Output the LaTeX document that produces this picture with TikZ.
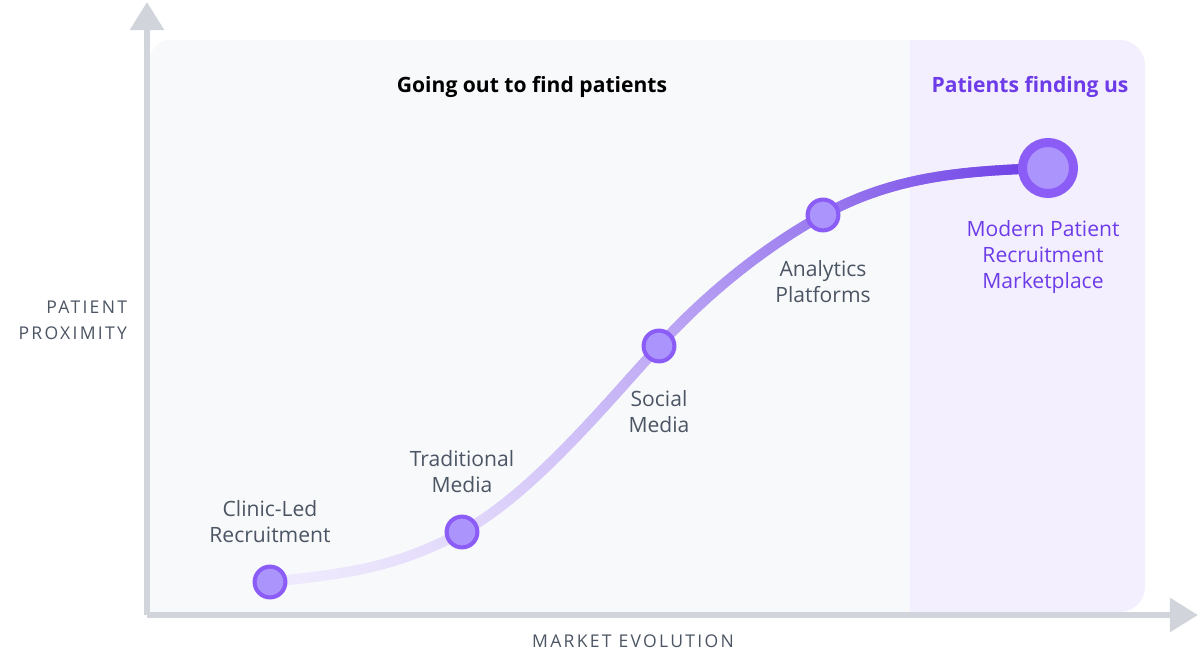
\documentclass[tikz,border=0pt]{standalone}
\usepackage{fontspec}
\setmainfont{Open Sans}
\usetikzlibrary{arrows.meta,decorations.markings}

\definecolor{axisgray}{HTML}{D1D5DB}
\definecolor{panelgray}{HTML}{F8F9FB}
\definecolor{panelviolet}{HTML}{F3EFFE}
\definecolor{labelgray}{HTML}{4B5563}
\definecolor{titlepurple}{HTML}{6D3CE8}
\definecolor{dotfill}{HTML}{AB94FB}
\definecolor{dotring}{HTML}{8B5CF6}
\definecolor{curvelight}{HTML}{EFEAFD}
\definecolor{curvedeep}{HTML}{6A3BE6}

\tikzset{
	axis/.style={draw=axisgray, line width=4.3pt, -{Triangle[width=23.5pt,length=20pt]}},
	dot/.style={shape=circle, draw=dotring, fill=dotfill, line width=2.9pt, minimum size=0.77cm, inner sep=0pt},
	bigdot/.style={shape=circle, draw=dotring, fill=dotfill, line width=6.4pt, minimum size=1.275cm, inner sep=0pt},
	milestone/.style={text=labelgray, align=center, font=\fontsize{15}{18.5}\selectfont},
	axislabel/.style={text=labelgray, font=\fontsize{12.5}{18.5}\selectfont\addfontfeature{LetterSpace=13}},
	title/.style={font=\fontsize{15}{20}\selectfont\bfseries},
	gradient curve/.style={decorate, decoration={markings,
		mark=between positions 0 and 1 step 0.8pt with {
			\pgfmathsetmacro\mixpc{min(100,100*(\pgfkeysvalueof{/pgf/decoration/mark info/distance from start}/\pgfdecoratedpathlength)^1.5)}
			\colorlet{curvecol}{curvedeep!\mixpc!curvelight}
			\fill[curvecol] (-0.7pt,-3.55pt) rectangle (0.7pt,3.55pt);
		}}},
}

\begin{document}
\begin{tikzpicture}[x=0.025cm, y=-0.025cm]
	
	\useasboundingbox (0,0) rectangle (1200,668);
	
	% panels
	\fill[panelgray, rounded corners=14pt] (150,40) rectangle (960,612);
	\fill[panelgray] (150,500) rectangle (200,612);
	\fill[panelviolet, rounded corners=18pt] (910,40) rectangle (1145,612);
	\fill[panelviolet] (910,40) rectangle (950,612);
	
	% axes
	\coordinate (origin) at (147,615);
	\coordinate (ytip) at (147,2);
	\coordinate (xtip) at (1198,615);
	\draw[axis] (origin) -- (ytip);
	\draw[axis] (origin) -- (xtip);
	
	\node[axislabel, anchor=east, align=right] (proximity) at (132,320) {PATIENT\\PROXIMITY};
	\node[axislabel] (evolution) at (633,641) {MARKET EVOLUTION};
	
	\node[title] (outward) at (532,87) {Going out to find patients};
	\node[title, text=titlepurple] (inward) at (1030,87) {Patients finding us};
	
	% curve
	\coordinate (p1) at (270,582);
	\coordinate (p2) at (462,532);
	\coordinate (p3) at (659,346);
	\coordinate (p4) at (823,215);
	\coordinate (p5) at (1048,168);
	
	\path[gradient curve] (p1) .. controls +(70,-8) and +(-70,38) .. (p2)
		.. controls +(70,-38) and +(-55,60) .. (p3)
		.. controls +(50,-55) and +(-55,30) .. (p4)
		.. controls +(70,-38) and +(-90,3) .. (p5);
	
	\node[dot] (clinicdot) at (p1) {};
	\node[dot] (traditionaldot) at (p2) {};
	\node[dot] (socialdot) at (p3) {};
	\node[dot] (analyticsdot) at (p4) {};
	\node[bigdot] (marketdot) at (p5) {};
	
	\node[milestone] (clinic) at (270,522) {Clinic-Led\\Recruitment};
	\node[milestone] (traditional) at (462,472) {Traditional\\Media};
	\node[milestone] (social) at (659,412) {Social\\Media};
	\node[milestone] (analytics) at (823,282) {Analytics\\Platforms};
	\node[milestone, text=titlepurple] (market) at (1043,257) {Modern Patient\\Recruitment\\Marketplace};

\end{tikzpicture}
\end{document}
